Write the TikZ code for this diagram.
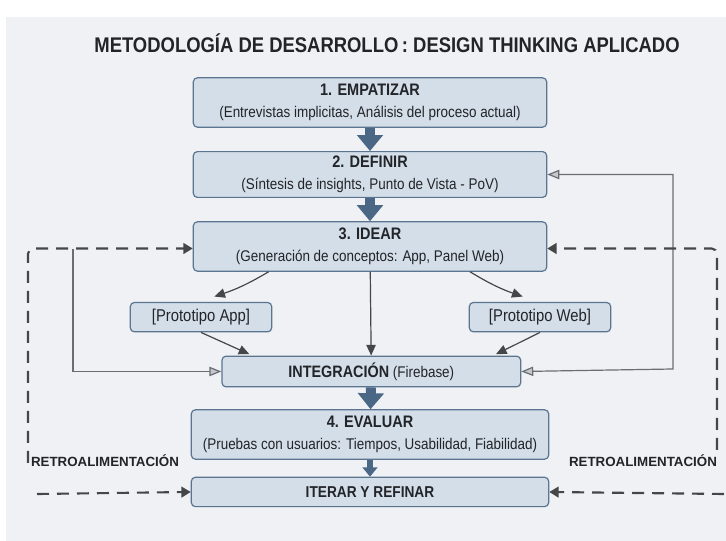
\documentclass[tikz,border=0pt]{standalone}
\usepackage{fontspec}
\setmainfont{Liberation Sans}[FakeStretch=0.87]
\newfontfamily\widefont{Liberation Sans}
\usetikzlibrary{positioning, arrows.meta}

\definecolor{panelgray}{HTML}{EFF1F4}
\definecolor{boxfill}{HTML}{D3DEE9}
\definecolor{boxline}{HTML}{5B7590}
\definecolor{flowblue}{HTML}{4A6785}
\definecolor{linegray}{HTML}{6A6D72}
\definecolor{dashgray}{HTML}{444648}
\definecolor{tipgray}{HTML}{C4C8CD}
\definecolor{textdark}{HTML}{222428}

\newcommand{\stephead}[1]{{\bfseries\fontsize{12.5}{16.5}\selectfont #1}}

\tikzset{
stage/.style={draw=boxline, fill=boxfill, line width=0.9pt, rounded corners=3pt,
  minimum width=265pt, minimum height=37pt, align=center, text=textdark,
  font=\fontsize{11.6}{16.5}\selectfont}, % the big step boxes
proto/.style={stage, minimum width=106pt, minimum height=22pt,
  font=\fontsize{12.8}{15}\selectfont}, % small prototype boxes
bigflow/.style={draw=flowblue, line width=7.5pt, -{Triangle[width=19pt,length=12pt]}}, % main flow
smallflow/.style={draw=flowblue, line width=4pt, -{Triangle[width=11pt,length=7pt]}},
branch/.style={draw=dashgray, line width=0.9pt, -{Triangle[width=7pt,length=8pt]}},
loop/.style={draw=linegray, line width=0.9pt},
fbdash/.style={draw=dashgray, line width=1.6pt, dash pattern=on 9pt off 6pt,
  rounded corners=4pt, -{Triangle[width=8pt,length=7pt]}}, % feedback lines
fblabel/.style={font=\widefont\fontsize{10}{12}\bfseries, text=textdark},
node distance=54pt,
}

\begin{document}
\begin{tikzpicture}[x=0.75pt, y=-0.75pt]
\useasboundingbox (0,0) rectangle (726,541);
\fill[white] (0,0) rectangle (726,541);
\fill[panelgray] (6,17) rectangle (726,541);

\node[font=\fontsize{15.9}{18}\bfseries, text=textdark] (title) at (387,43)
  {METODOLOGÍA DE DESARROLLO\,: DESIGN THINKING APLICADO};

\node[stage] (emp) at (370,102.5)
  {\stephead{1. EMPATIZAR}\\(Entrevistas implicitas, Análisis del proceso actual)};
\node[stage, below of=emp, minimum height=34pt] (def)
  {\stephead{2. DEFINIR}\\(Síntesis de insights, Punto de Vista - PoV)};
\node[stage, below of=def] (idea)
  {\stephead{3. IDEAR}\\(Generación de conceptos: App, Panel Web)};

\node[proto, below of=idea, xshift=-126.75pt, yshift=1pt] (papp) {[Prototipo App]};
\node[proto, below of=idea, xshift=127.5pt, yshift=1pt] (pweb) {[Prototipo Web]};

\node[stage, below of=idea, xshift=1pt, yshift=-39.75pt, minimum width=224pt, minimum height=23pt] (integ)
  {{\bfseries\fontsize{12.4}{14}\selectfont INTEGRACIÓN} (Firebase)};
\node[stage, below of=integ, xshift=-1pt, yshift=6.75pt, minimum width=268pt] (eval)
  {\stephead{4. EVALUAR}\\(Pruebas con usuarios: Tiempos, Usabilidad, Fiabilidad)};
\node[stage, below of=eval, yshift=10.9pt, minimum width=268pt, minimum height=22pt] (iter)
  {{\bfseries\fontsize{11.8}{14}\selectfont ITERAR Y REFINAR}};

\node[fblabel] (retl) at (105,461) {RETROALIMENTACIÓN};
\node[fblabel] (retr) at (643,461) {RETROALIMENTACIÓN};

% loose ends of the loops
\coordinate (lfb) at (28,463);
\coordinate (rfb) at (717,450);
\coordinate (lin) at (37,494);
\coordinate (rin) at (724,494);
\coordinate (lloop) at (73,249);
\coordinate (rloop) at (673,369);

% main flow
\draw[bigflow] (emp) -- (def);
\draw[bigflow] (def) -- (idea);
\draw[bigflow] (integ) -- (eval);
\draw[smallflow] (eval) -- (iter);

% branches
\draw[branch] ([xshift=-76pt]idea.south) to[bend left=6] ([xshift=10pt,yshift=4pt]papp.north);
\draw[branch] ([xshift=75pt]idea.south) to[bend right=6] ([xshift=-13pt,yshift=4pt]pweb.north);
\draw[branch] (idea) -- (integ);
\draw[branch] (papp.south) -- ([xshift=21pt,yshift=1pt]integ.north west);
\draw[branch] (pweb.south) -- ([xshift=-19pt,yshift=1pt]integ.north east);

% loops back
\draw[loop, -{Triangle[width=7pt,length=9pt,fill=tipgray]}] (lloop) |- (integ.west);
\draw[loop, {Triangle[width=7pt,length=9pt,fill=tipgray]}-{Triangle[width=7pt,length=9pt,fill=tipgray]}]
  (def.east) -| (rloop) -- (integ.east);

% feedback
\draw[fbdash] (lfb) |- ([yshift=-1.5pt]idea.west);
\draw[fbdash] (rfb) |- ([yshift=-1.5pt]idea.east);
\draw[fbdash, rounded corners=0pt] (lin) -- (iter.west);
\draw[fbdash, rounded corners=0pt] (rin) -- (iter.east);
\end{tikzpicture}
\end{document}
